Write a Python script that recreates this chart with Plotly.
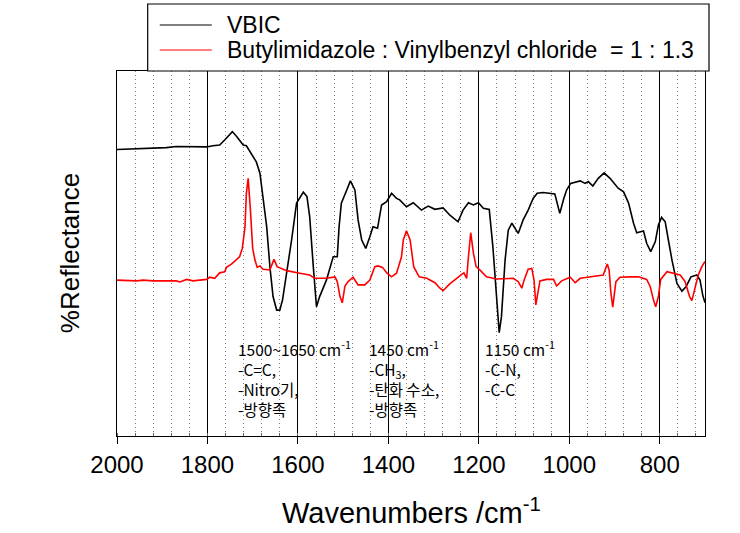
import plotly.graph_objects as go

# ---- data (wavenumber cm^-1, relative reflectance) ----
vbic_wn = [2000, 1965, 1920, 1891, 1869, 1817, 1802, 1788, 1773, 1762, 1745, 1735, 1721, 1714,
           1706, 1699, 1692, 1684, 1677, 1669, 1662, 1655, 1647, 1640, 1634, 1625, 1614, 1603,
           1588, 1580, 1574, 1566, 1559, 1552, 1537, 1522, 1513, 1509, 1504, 1492, 1484, 1474,
           1467, 1459, 1450, 1441, 1434, 1424, 1415, 1404, 1393, 1382, 1375, 1360, 1345, 1327,
           1312, 1297, 1279, 1264, 1246, 1235, 1223, 1212, 1201, 1190, 1177, 1169, 1162, 1155,
           1150, 1142, 1135, 1127, 1113, 1102, 1091, 1080, 1071, 1058, 1032, 1027, 1021, 1013,
           1006, 997, 976, 965, 958, 948, 936, 923, 910, 892, 880, 869, 858, 851, 836, 829, 820,
           810, 803, 796, 788, 781, 773, 762, 751, 742, 731, 718, 711, 705, 700]
vbic_val = [78.5, 78.6, 78.8, 79.0, 79.3, 79.3, 79.2, 79.5, 79.7, 81.1, 83.4, 82.0, 79.7, 79.5,
            77.9, 76.2, 75.1, 72.0, 65.6, 57.3, 46.4, 38.2, 34.5, 34.5, 37.3, 44.6, 53.7, 63.8,
            66.8, 65.6, 60.1, 46.4, 35.4, 38.2, 42.7, 49.1, 49.1, 57.3, 63.8, 67.4, 69.9, 67.4,
            59.2, 53.7, 51.4, 54.6, 57.3, 56.9, 63.3, 64.2, 66.5, 65.1, 64.7, 62.8, 63.9, 61.9,
            63.0, 62.1, 62.5, 60.5, 58.7, 61.9, 63.9, 63.3, 63.9, 62.4, 62.1, 51.9, 39.1, 28.3,
            32.7, 48.2, 56.4, 58.3, 55.5, 59.2, 61.9, 65.1, 66.5, 66.7, 66.3, 63.8, 61.0, 64.7,
            67.4, 69.2, 69.9, 69.2, 69.7, 68.5, 70.6, 72.1, 70.6, 67.9, 66.9, 63.8, 58.3, 55.7,
            56.2, 52.8, 50.5, 53.2, 57.8, 59.9, 58.7, 53.7, 48.2, 41.8, 39.7, 40.9, 43.6, 44.1,
            42.7, 38.6, 36.5]

mix_wn = [2000, 1957, 1942, 1920, 1869, 1861, 1846, 1832, 1802, 1795, 1784, 1773, 1762, 1758,
          1747, 1736, 1729, 1723, 1717, 1714, 1710, 1705, 1700, 1695, 1690, 1684, 1677, 1662,
          1653, 1646, 1636, 1625, 1596, 1574, 1563, 1537, 1518, 1513, 1507, 1502, 1496, 1489,
          1478, 1467, 1452, 1441, 1430, 1423, 1413, 1403, 1393, 1382, 1371, 1367, 1360, 1352,
          1344, 1332, 1315, 1297, 1286, 1279, 1265, 1253, 1238, 1233, 1227, 1223, 1218, 1212,
          1206, 1198, 1183, 1161, 1124, 1113, 1105, 1100, 1091, 1083, 1078, 1074, 1065, 1050,
          1035, 1028, 1017, 998, 987, 976, 954, 925, 916, 912, 908, 904, 897, 888, 866, 847,
          829, 821, 814, 809, 803, 798, 784, 773, 755, 744, 734, 729, 722, 715, 707, 700]
mix_val = [42.7, 42.5, 42.7, 42.5, 42.5, 42.2, 42.9, 42.5, 42.9, 43.5, 43.2, 44.7, 45.0, 46.2,
           47.1, 48.2, 49.1, 51.4, 57.3, 66.5, 70.6, 61.9, 51.4, 48.2, 46.2, 46.6, 45.7, 45.5,
           48.4, 46.4, 45.9, 45.3, 44.6, 44.1, 43.2, 43.2, 43.6, 42.3, 38.2, 36.5, 41.1, 42.3,
           43.5, 41.4, 41.4, 42.7, 46.4, 46.6, 46.2, 44.6, 43.6, 44.6, 49.1, 53.7, 56.2, 53.7,
           46.4, 43.6, 43.2, 42.0, 40.5, 39.8, 41.6, 42.9, 44.3, 44.7, 43.2, 49.1, 55.7, 50.1,
           46.4, 45.5, 43.6, 43.0, 43.2, 42.3, 40.5, 42.7, 45.7, 45.9, 42.7, 35.9, 42.5, 42.9,
           42.9, 41.1, 42.5, 43.5, 42.0, 43.2, 43.6, 44.1, 47.1, 45.5, 39.1, 35.3, 42.3, 43.5,
           43.6, 43.6, 42.9, 40.9, 37.3, 35.4, 38.2, 42.9, 45.0, 44.7, 44.1, 42.3, 38.2, 37.1,
           40.5, 44.1, 46.4, 47.8]

series_names = ["VBIC", "Butylimidazole : Vinylbenzyl chloride&nbsp;&nbsp;= 1 : 1.3"]
series_colors = ["#000000", "#FF0000"]

x_ticks = [2000, 1800, 1600, 1400, 1200, 1000, 800]

note_x = [1736, 1448, 1190]
note_text = [
    "1500~1650 cm<sup>-1</sup><br>-C=C,<br>-Nitro기,<br>-방향족",
    "1450 cm<sup>-1</sup><br>-CH<sub>3</sub>,<br>-탄화 수소,<br>-방향족",
    "1150 cm<sup>-1</sup><br>-C-N,<br>-C-C",
]

FONT = "Liberation Sans, Arial, sans-serif"
KFONT = "Noto Sans CJK KR, Noto Sans, sans-serif"

fig = go.Figure()
fig.add_trace(go.Scatter(x=vbic_wn, y=vbic_val, mode="lines", name=series_names[0],
                         line=dict(color=series_colors[0], width=1.6), showlegend=False))
fig.add_trace(go.Scatter(x=mix_wn, y=mix_val, mode="lines", name=series_names[1],
                         line=dict(color=series_colors[1], width=1.6), showlegend=False))

fig.update_layout(
    width=740, height=533,
    margin=dict(l=117, r=35, t=71, b=97),
    paper_bgcolor="white", plot_bgcolor="white",
    font=dict(family=FONT, color="black"),
    showlegend=False,
)
fig.update_xaxes(
    range=[2000, 700], autorange=False,
    tickvals=x_ticks, ticktext=[str(v) for v in x_ticks],
    ticks="outside", ticklen=7, tickcolor="black", tickwidth=1,
    tickfont=dict(family=FONT, size=24, color="black"),
    showgrid=True, gridcolor="black", gridwidth=1.2,
    showline=True, linecolor="black", linewidth=1.2, mirror=True,
    zeroline=False,
    minor=dict(dtick=40, tick0=2000, showgrid=True, gridcolor="#808080", griddash="1px,3px",
               gridwidth=1, ticks="inside", ticklen=3, tickcolor="#666666"),
)
fig.update_yaxes(
    range=[0, 100], autorange=False,
    showticklabels=False, ticks="", showgrid=False, zeroline=False,
    showline=True, linecolor="black", linewidth=1.2, mirror=True,
)

# legend box (drawn manually to match the reference layout)
fig.add_shape(type="rect", xref="paper", yref="paper", x0=0.0522, x1=1.0068, y0=1.0, y1=1.1836,
              line=dict(color="black", width=1.2), fillcolor="white", layer="above")
leg_y = [1.126, 1.0575]
for i in range(2):
    fig.add_shape(type="line", xref="paper", yref="paper", x0=0.0727, x1=0.1612,
                  y0=leg_y[i], y1=leg_y[i], line=dict(color=series_colors[i], width=1.2))
    fig.add_annotation(xref="paper", yref="paper", x=0.1833, y=leg_y[i], text=series_names[i],
                       showarrow=False, xanchor="left", yanchor="middle",
                       font=dict(family=FONT, size=23, color="black"))

# axis titles
fig.add_annotation(xref="paper", yref="paper", x=0.5, y=-0.205,
                   text="Wavenumbers /cm<sup>-1</sup>", showarrow=False,
                   xanchor="center", yanchor="middle",
                   font=dict(family=FONT, size=29, color="black"))
fig.add_annotation(xref="paper", yref="paper", x=-0.0805, y=0.5, text="%Reflectance",
                   textangle=-90, showarrow=False, xanchor="center", yanchor="middle",
                   font=dict(family=FONT, size=26, color="black"))

# band annotations
for xv, t in zip(note_x, note_text):
    fig.add_annotation(x=xv, y=28.0, xref="x", yref="y", text=t, showarrow=False,
                       xanchor="left", yanchor="top", align="left",
                       font=dict(family=KFONT, size=15.5, color="black"))

fig.write_html("out.html")
